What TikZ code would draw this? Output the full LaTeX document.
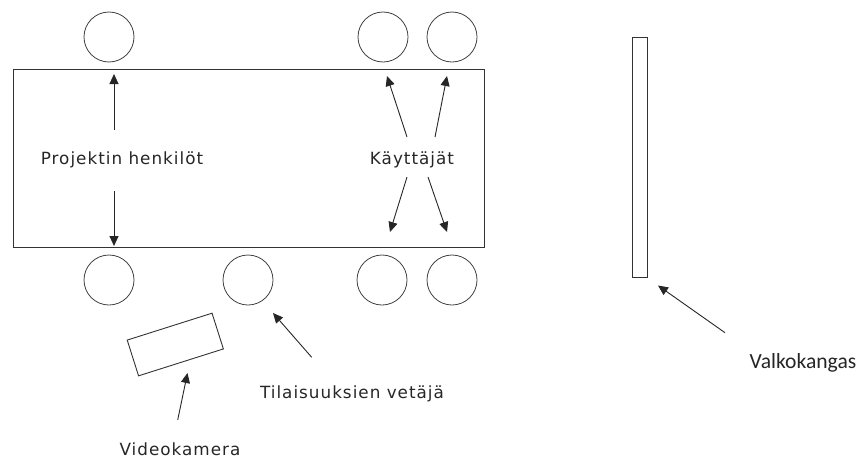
\documentclass[tikz,border=0pt]{standalone}
\usepackage{fontspec}
\setmainfont{DejaVu Sans}
\newfontfamily\lblfont[LetterSpace=6]{DejaVu Sans}
\newfontfamily\calfont{Carlito}
\usetikzlibrary{arrows.meta}
\begin{document}
\begin{tikzpicture}[x=1pt,y=-1pt,
  line/.style={draw=black!80,line width=0.9pt},
  seat/.style={circle,draw=black!75,line width=0.8pt,minimum size=50pt,inner sep=0pt},
  arr/.style={draw=black!85,line width=0.9pt,-{Triangle[length=10pt,width=9pt]}},
  lbl/.style={inner sep=0pt,font=\lblfont\fontsize{16.8}{18}\selectfont,text=black!85},
  cal/.style={inner sep=0pt,font=\calfont\fontsize{21.6}{24}\selectfont,text=black!85}]
\useasboundingbox (0,0) rectangle (866,458);
% table
\draw[line] (13,69) rectangle (484,247);
% seats
\node[seat] (t1) at (109,37) {};
\node[seat] (t2) at (383,37) {};
\node[seat] (t3) at (452,37) {};
\node[seat] (b1) at (109,280) {};
\node[seat] (b2) at (248,280) {};
\node[seat] (b3) at (382,280) {};
\node[seat] (b4) at (452,280) {};
% screen
\node[draw=black!80,line width=0.9pt,minimum width=15pt,minimum height=240pt,inner sep=0pt] (screen) at (640,157.3) {};
% camera
\node[draw=black!80,line width=0.9pt,minimum width=89pt,minimum height=37.5pt,inner sep=0pt,rotate=17.6] (cam) at (175.3,344.5) {};
% labels
\node[lbl] (proj) at (122,160) {Projektin henkilöt};
\node[lbl] (kayt) at (412,160) {Käyttäjät};
\node[lbl] (veta) at (352,394) {Tilaisuuksien vetäjä};
\node[lbl] (video) at (180,449) {Videokamera};
\node[cal] (valko) at (803,363) {Valkokangas};
% arrow coordinates
\coordinate (p1s) at (114,130); \coordinate (p1e) at (114,74);
\coordinate (p2s) at (114,191); \coordinate (p2e) at (114,246);
\coordinate (k1s) at (407,137); \coordinate (k1e) at (387,76);
\coordinate (k2s) at (435,137); \coordinate (k2e) at (447,76);
\coordinate (k3s) at (407,177); \coordinate (k3e) at (390,232);
\coordinate (k4s) at (428,177); \coordinate (k4e) at (447,232);
\coordinate (vs) at (177.7,420); \coordinate (ve) at (187.5,373);
\coordinate (ts) at (311.7,357.3); \coordinate (te) at (273,313);
\coordinate (ss) at (725,332.7); \coordinate (se) at (658,285.5);
\draw[arr] (p1s) -- (p1e);
\draw[arr] (p2s) -- (p2e);
\draw[arr] (k1s) -- (k1e);
\draw[arr] (k2s) -- (k2e);
\draw[arr] (k3s) -- (k3e);
\draw[arr] (k4s) -- (k4e);
\draw[arr] (vs) -- (ve);
\draw[arr] (ts) -- (te);
\draw[arr] (ss) -- (se);
\end{tikzpicture}
\end{document}
